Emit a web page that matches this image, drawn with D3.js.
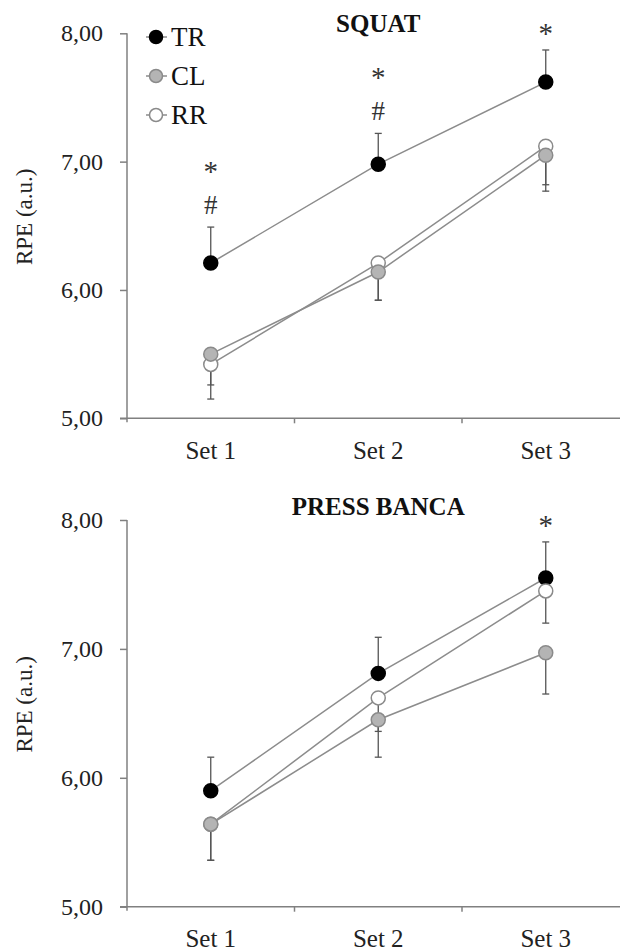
<!DOCTYPE html>
<html>
<head>
<meta charset="utf-8">
<script src="https://cdn.jsdelivr.net/npm/d3@7"></script>
<style>
  body { margin: 0; background: #fff; }
  svg { display: block; font-family: "Liberation Serif", "DejaVu Serif", serif; }
</style>
</head>
<body>
<svg width="620" height="951"></svg>
<script>
var sets = ['Set 1', 'Set 2', 'Set 3'];
var yTicks = [5, 6, 7, 8];
var groups = ['TR', 'CL', 'RR'];

// squat
var squatTR = [6.21, 6.98, 7.62];
var squatTRsd = [0.28, 0.24, 0.25];
var squatCL = [5.50, 6.14, 7.05];
var squatCLsd = [0.24, 0.22, 0.28];
var squatRR = [5.42, 6.21, 7.12];
var squatRRsd = [0.27, 0.29, 0.30];
var squatSig = [['*', '#'], ['*', '#'], ['*']];

// press banca
var benchTR = [5.90, 6.81, 7.55];
var benchTRsd = [0.26, 0.28, 0.28];
var benchCL = [5.64, 6.45, 6.97];
var benchCLsd = [0.28, 0.29, 0.32];
var benchRR = [5.64, 6.62, 7.45];
var benchRRsd = [0.28, 0.26, 0.25];
var benchSig = [[], [], ['*']];

var LINE_COLOR = '#8c8c8c';
var AXIS_COLOR = '#808080';
var BAR_COLOR = '#555';
var MARKER_R = 7;
var style = {
  TR: { fill: '#000', stroke: '#000' },
  CL: { fill: '#b4b4b4', stroke: '#8a8a8a' },
  RR: { fill: '#fff', stroke: '#8a8a8a' }
};

var svg = d3.select('svg');
var fmt = d3.formatLocale({ decimal: ',', thousands: '.', grouping: [3], currency: ['', ''] }).format('.2f');
var x = d3.scaleBand().domain(sets).range([127, 629.5]);

var drawPanel = function (cfg) {
  var y = d3.scaleLinear().domain([5, 8]).range([cfg.bottom, cfg.top]);
  var g = svg.append('g');
  var cx = function (i) { return x(sets[i]) + x.bandwidth() / 2; };

  // y axis
  var ya = g.append('g')
    .attr('transform', 'translate(' + x.range()[0] + ',0)')
    .call(d3.axisLeft(y).tickValues(yTicks).tickFormat(fmt).tickSize(7).tickSizeOuter(0).tickPadding(17));
  ya.attr('font-family', null).attr('font-size', 24);
  ya.select('.domain').remove();
  ya.selectAll('line').attr('stroke', AXIS_COLOR).attr('stroke-width', 1.5);
  ya.selectAll('text').attr('fill', '#222');
  g.append('line')
    .attr('x1', x.range()[0]).attr('x2', x.range()[0])
    .attr('y1', y(8)).attr('y2', y(5) + 4)
    .attr('stroke', AXIS_COLOR).attr('stroke-width', 1.5);

  // x axis
  var xa = g.append('g')
    .attr('transform', 'translate(0,' + y(5) + ')')
    .call(d3.axisBottom(x).tickSize(0).tickPadding(23));
  xa.attr('font-family', null).attr('font-size', 25);
  xa.select('.domain').remove();
  xa.selectAll('text').attr('fill', '#222');
  g.append('line')
    .attr('x1', x.range()[0] - 7).attr('x2', 620)
    .attr('y1', y(5)).attr('y2', y(5))
    .attr('stroke', AXIS_COLOR).attr('stroke-width', 1.5);
  g.selectAll('.xtick').data(sets.slice(1)).enter().append('line')
    .attr('x1', function (d) { return x(d); }).attr('x2', function (d) { return x(d); })
    .attr('y1', y(5)).attr('y2', y(5) + 5)
    .attr('stroke', AXIS_COLOR).attr('stroke-width', 1.5);

  // y label
  g.append('text')
    .attr('transform', 'translate(32,' + ((y(5) + y(8)) / 2 - 9) + ') rotate(-90)')
    .attr('text-anchor', 'middle')
    .attr('font-size', 23)
    .attr('fill', '#222')
    .text('RPE (a.u.)');

  // title
  g.append('text')
    .attr('x', cx(1)).attr('y', cfg.titleY)
    .attr('text-anchor', 'middle')
    .attr('font-size', 25).attr('font-weight', 'bold')
    .attr('fill', '#111')
    .text(cfg.title);

  var line = d3.line()
    .x(function (d, i) { return cx(i); })
    .y(function (d) { return y(d); });

  var order = ['TR', 'RR', 'CL'];
  order.forEach(function (k) {
    g.append('path')
      .attr('d', line(cfg.series[k].mean))
      .attr('fill', 'none')
      .attr('stroke', LINE_COLOR)
      .attr('stroke-width', 1.5);
  });

  // error bars
  order.forEach(function (k) {
    var s = cfg.series[k];
    var dir = k === 'TR' ? 1 : -1;
    s.mean.forEach(function (m, i) {
      var end = y(m + dir * s.sd[i]);
      g.append('line')
        .attr('x1', cx(i)).attr('x2', cx(i))
        .attr('y1', y(m)).attr('y2', end)
        .attr('stroke', BAR_COLOR).attr('stroke-width', 1.3);
      g.append('line')
        .attr('x1', cx(i) - 3.5).attr('x2', cx(i) + 3.5)
        .attr('y1', end).attr('y2', end)
        .attr('stroke', BAR_COLOR).attr('stroke-width', 1.3);
    });
  });

  // markers
  order.forEach(function (k) {
    var s = cfg.series[k];
    g.selectAll('.m' + k).data(s.mean).enter().append('circle')
      .attr('cx', function (d, i) { return cx(i); })
      .attr('cy', function (d) { return y(d); })
      .attr('r', MARKER_R)
      .attr('fill', style[k].fill)
      .attr('stroke', style[k].stroke)
      .attr('stroke-width', 1.5);
  });

  // significance marks, stacked above TR error bar
  cfg.sig.forEach(function (marks, i) {
    var topBar = y(cfg.series.TR.mean[i] + cfg.series.TR.sd[i]);
    marks.slice().reverse().forEach(function (m, j) {
      var c = topBar - 22 - j * 39;
      var star = m === '*';
      g.append('text')
        .attr('x', cx(i))
        .attr('y', star ? c + 15 : c + 9)
        .attr('text-anchor', 'middle')
        .attr('font-size', star ? 29 : 27)
        .attr('fill', '#333')
        .text(m);
    });
  });

  return g;
};

var squatPanel = drawPanel({
  title: 'SQUAT', top: 33.3, bottom: 418.3, titleY: 32,
  series: {
    TR: { mean: squatTR, sd: squatTRsd },
    CL: { mean: squatCL, sd: squatCLsd },
    RR: { mean: squatRR, sd: squatRRsd }
  },
  sig: squatSig
});

drawPanel({
  title: 'PRESS BANCA', top: 520, bottom: 906.7, titleY: 515,
  series: {
    TR: { mean: benchTR, sd: benchTRsd },
    CL: { mean: benchCL, sd: benchCLsd },
    RR: { mean: benchRR, sd: benchRRsd }
  },
  sig: benchSig
});

// legend
var legend = squatPanel.append('g');
groups.forEach(function (k, i) {
  var ly = 37 + i * 39;
  legend.append('line')
    .attr('x1', 146).attr('x2', 167)
    .attr('y1', ly).attr('y2', ly)
    .attr('stroke', LINE_COLOR).attr('stroke-width', 1.5);
  legend.append('circle')
    .attr('cx', 156).attr('cy', ly).attr('r', 6.5)
    .attr('fill', style[k].fill)
    .attr('stroke', style[k].stroke)
    .attr('stroke-width', 1.5);
  legend.append('text')
    .attr('x', 171).attr('y', ly + 9)
    .attr('font-size', 27)
    .attr('fill', '#111')
    .text(k);
});
</script>
</body>
</html>
